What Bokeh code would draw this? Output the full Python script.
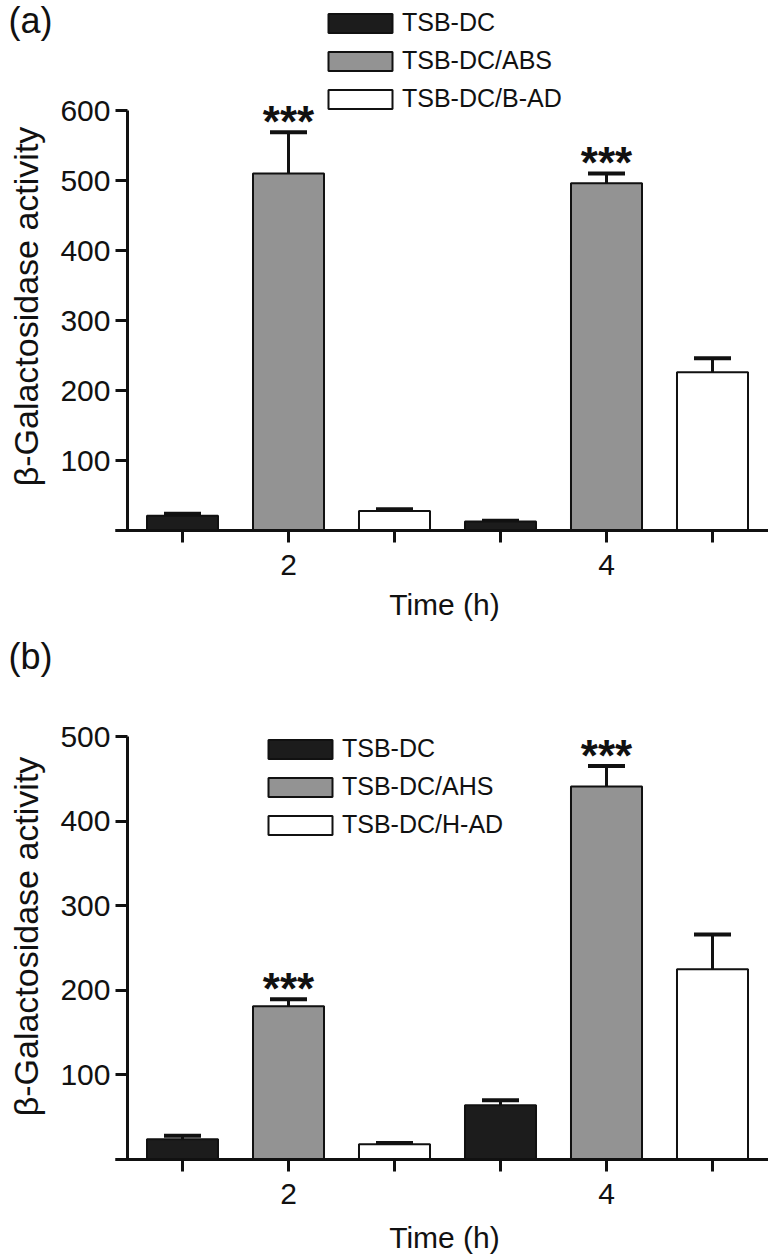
import math
from bokeh.plotting import figure
from bokeh.layouts import column
from bokeh.models import (ColumnDataSource, FixedTicker, Whisker, TeeHead, Label,
                          Legend, LegendItem)
from bokeh.core.properties import value
from bokeh.embed import file_html
from bokeh.resources import INLINE

# ---------------- data ----------------
times = ["2", "4"]

series_a = ["TSB-DC", "TSB-DC/ABS", "TSB-DC/B-AD"]
mean_a_dc = [21, 13]
mean_a_abs = [510, 496]
mean_a_bad = [28, 226]
err_a_dc = [3, 1]
err_a_abs = [59, 14]
err_a_bad = [2.5, 20]
stars_a_abs = ["***", "***"]
yticks_a = [0, 100, 200, 300, 400, 500, 600]

series_b = ["TSB-DC", "TSB-DC/AHS", "TSB-DC/H-AD"]
mean_b_dc = [24, 64]
mean_b_ahs = [181, 441]
mean_b_had = [18, 225]
err_b_dc = [4, 6]
err_b_ahs = [8.5, 24]
err_b_had = [1.5, 41]
stars_b_ahs = ["***", "***"]
yticks_b = [0, 100, 200, 300, 400, 500]

ylabel = "β-Galactosidase activity"
xlabel = "Time (h)"

# ---------------- style / layout ----------------
FONT = "Liberation Sans"
FILLS = ["#1c1c1c", "#939393", "#ffffff"]
INK = "#111111"
FIG_W = 768
FIG_H = 628
PX_PER_X = 106.0          # pixels per bar slot
FIRST_BAR_PX = 182.0      # pixel centre of first bar
YAXIS_PX = 127.0          # pixel position of the y axis line
XAXIS_LEFT_PX = 115.0     # x axis line starts here
XLABEL_PX = 444.0         # centre of the x axis title


def px_to_x(px):
    return 1 + (px - FIRST_BAR_PX) / PX_PER_X


def make_panel(tag, names, means, errs, stars, yticks, axis_px, px_per_100,
               legend_xy, tag_y, ylab_y, xlab_y):
    # whole canvas is the frame; axes are drawn at fixed data positions
    y_start = -(FIG_H - axis_px) / px_per_100 * 100
    y_end = axis_px / px_per_100 * 100
    n = len(names)
    x0, x1 = px_to_x(0), px_to_x(FIG_W)
    p = figure(width=FIG_W, height=FIG_H, x_range=(x0, x1), y_range=(y_start, y_end),
               output_backend="svg", toolbar_location=None,
               min_border_left=0, min_border_right=0, min_border_top=0,
               min_border_bottom=0)
    p.outline_line_color = None
    p.xgrid.visible = False
    p.ygrid.visible = False
    p.background_fill_color = "white"
    p.border_fill_color = "white"

    items = []
    for s, name in enumerate(names):
        xs = [g * n + s + 1 for g in range(len(times))]
        ups = [m + e for m, e in zip(means[s], errs[s])]
        src = ColumnDataSource(dict(x=xs, top=means[s], upper=ups))
        r = p.vbar(x="x", top="top", width=0.67, source=src, fill_color=FILLS[s],
                   line_color=INK, line_width=2)
        w = Whisker(source=src, base="x", lower="top", upper="upper",
                    line_color=INK, line_width=3, lower_head=None,
                    upper_head=TeeHead(size=37, line_width=4, line_color=INK))
        p.add_layout(w)
        items.append(LegendItem(label=name, renderers=[r]))
        if s == 1:
            ssrc = ColumnDataSource(dict(x=xs, y=ups, t=stars))
            p.text(x="x", y="y", text="t", source=ssrc, text_align="center",
                   text_baseline="alphabetic", y_offset=-11,
                   text_font=value(FONT), text_font_size="44px",
                   text_font_style="bold", text_color=INK)

    # x axis at y = 0
    ticks = [g * n + s + 1 for g in range(len(times)) for s in range(n)]
    overrides = {}
    for g in range(len(times)):
        for s in range(n):
            overrides[g * n + s + 1] = times[g] if s == 1 else ""
    xa = p.xaxis[0]
    xa.ticker = FixedTicker(ticks=ticks)
    xa.major_label_overrides = overrides
    xa.bounds = (px_to_x(XAXIS_LEFT_PX), x1)
    xa.fixed_location = 0
    # y axis
    ya = p.yaxis[0]
    ya.ticker = FixedTicker(ticks=yticks)
    ya.major_label_overrides = {0: ""}
    ya.bounds = (0, yticks[-1])
    ya.fixed_location = px_to_x(YAXIS_PX)

    for ax in (xa, ya):
        ax.axis_line_width = 3
        ax.axis_line_color = INK
        ax.major_tick_line_width = 3
        ax.major_tick_line_color = INK
        ax.major_tick_out = 12
        ax.major_tick_in = 0
        ax.minor_tick_line_color = None
        ax.major_label_text_font = FONT
        ax.major_label_text_font_size = "30px"
        ax.major_label_text_color = INK
    xa.major_label_standoff = 12
    ya.major_label_standoff = 5

    lg = Legend(items=items, location=legend_xy, glyph_width=80, glyph_height=24,
                label_standoff=2, spacing=9, padding=0, margin=0,
                border_line_alpha=0, background_fill_alpha=0,
                label_text_font=FONT, label_text_font_size="25px",
                label_text_color=INK)
    p.add_layout(lg)

    p.add_layout(Label(x=8, y=tag_y, x_units="screen", y_units="screen", text=tag,
                       text_font=FONT, text_font_size="36px", text_color=INK,
                       text_baseline="alphabetic", text_align="left"))
    p.add_layout(Label(x=25, y=ylab_y, x_units="screen", y_units="screen", text=ylabel,
                       angle=math.pi / 2, text_font=FONT, text_font_size="34px",
                       text_color=INK, text_baseline="alphabetic", text_align="center"))
    p.add_layout(Label(x=XLABEL_PX, y=xlab_y, x_units="screen", y_units="screen",
                       text=xlabel, text_font=FONT, text_font_size="30px",
                       text_color=INK, text_baseline="alphabetic", text_align="center"))
    return p


pa = make_panel("(a)", series_a, [mean_a_dc, mean_a_abs, mean_a_bad],
                [err_a_dc, err_a_abs, err_a_bad], stars_a_abs, yticks_a,
                axis_px=530, px_per_100=70, legend_xy=(320, 515),
                tag_y=608, ylab_y=322, xlab_y=24)
pb = make_panel("(b)", series_b, [mean_b_dc, mean_b_ahs, mean_b_had],
                [err_b_dc, err_b_ahs, err_b_had], stars_b_ahs, yticks_b,
                axis_px=531, px_per_100=84.6, legend_xy=(260, 417),
                tag_y=600, ylab_y=320, xlab_y=19)

layout = column(pa, pb, spacing=0)
open("out.html", "w").write(file_html(layout, INLINE))
